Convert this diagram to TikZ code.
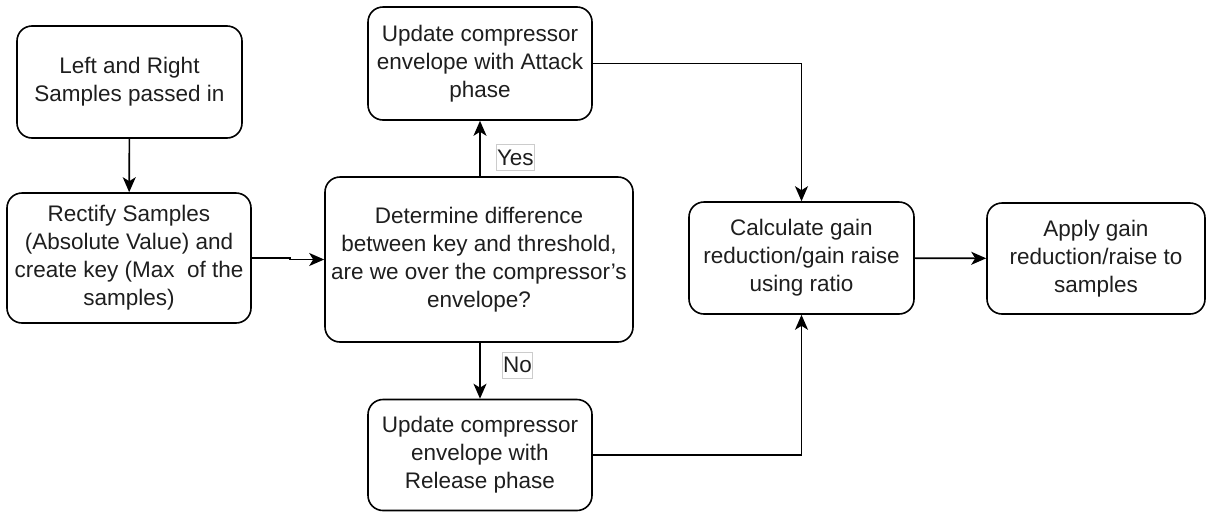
\documentclass[tikz,border=0pt]{standalone}
\usepackage{fontspec}
\setmainfont{Liberation Sans}
\usetikzlibrary{arrows.meta}
\definecolor{ink}{RGB}{0,0,0}
\definecolor{txt}{RGB}{30,30,30}
\tikzset{
  box/.style={draw=ink,line width=1.6pt,rounded corners=15pt,align=center,
    text=txt,font=\fontsize{22.5}{28}\selectfont,inner sep=0pt},
  flow/.style={-{Stealth[length=15pt,width=13pt,inset=4pt]},line width=1.6pt,draw=ink},
  tag/.style={draw=black!20,line width=0.8pt,text=txt,
    font=\fontsize{22.5}{28}\selectfont,inner sep=0.6pt,minimum height=26pt},
}

\begin{document}
\begin{tikzpicture}[x=1pt,y=-1pt]
  \useasboundingbox (0,0) rectangle (1212,512);
  % process boxes
  \node[box,minimum width=225pt,minimum height=112pt] (lr) at (129.5,82) {Left and Right\\Samples passed in};
  \node[box,minimum width=244pt,minimum height=130pt] (rect) at (129,258) {Rectify Samples\\(Absolute Value) and\\create key (Max\ \ of the\\samples)};
  \node[box,minimum width=308pt,minimum height=165pt] (det) at (479,259.5) {Determine difference\\between key and threshold,\\are we over the compressor's\\envelope?};
  \node[box,minimum width=224pt,minimum height=113pt] (atk) at (480,63.5) {Update compressor\\envelope with Attack\\phase};
  \node[box,minimum width=224pt,minimum height=111pt] (rel) at (480,455) {Update compressor\\envelope with\\Release phase};
  \node[box,minimum width=225pt,minimum height=112pt] (calc) at (801.5,258) {Calculate gain\\reduction/gain raise\\using ratio};
  \node[box,minimum width=218pt,minimum height=111pt] (apply) at (1096,258.5) {Apply gain\\reduction/raise to\\samples};
  % connectors
  \draw[flow] (lr) -- (rect);
  \draw[flow] (rect.east) -- ++(38,0) |- (det.west);
  \draw[flow] (det.north -| atk) -- (atk);
  \draw[flow] (det.south -| rel) -- (rel);
  \draw[flow] (atk.east) -| (calc.north);
  \draw[flow] (rel.east) -| (calc.south);
  \draw[flow] (calc) -- (apply);
  % branch labels
  \node[tag,anchor=west] (yes) at (496,157.5) {Yes};
  \node[tag,anchor=west] (no) at (502,365) {No};
\end{tikzpicture}
\end{document}
